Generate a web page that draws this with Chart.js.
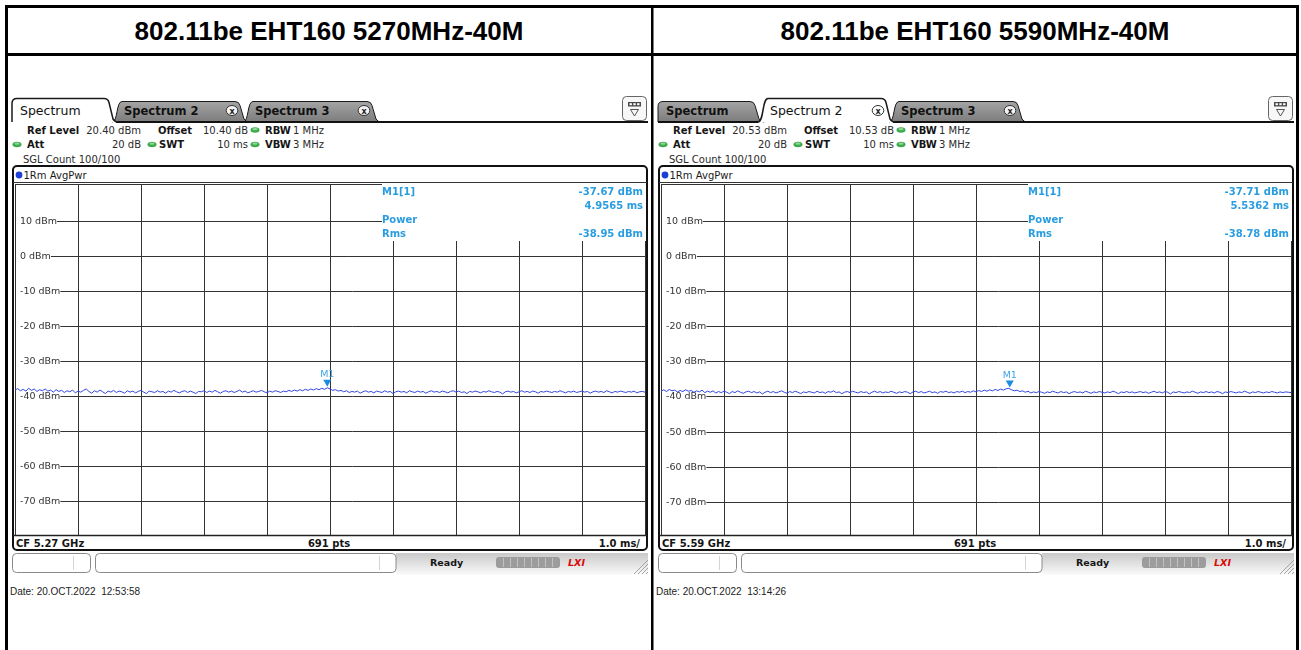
<!DOCTYPE html>
<html>
<head>
<meta charset="utf-8">
<title>802.11be EHT160 power vs time</title>
<script src="https://cdn.jsdelivr.net/npm/chart.js@4.4.0/dist/chart.umd.min.js"></script>
<style>
  html, body { margin: 0; padding: 0; background: #fff; }
  #stage { position: relative; width: 1301px; height: 650px; overflow: hidden; background: #fff; }
  #frame { position: absolute; left: 0; top: 0; }
  #stage canvas { position: absolute; }
</style>
</head>
<body>
<div id="stage">
  <svg id="frame" width="1301" height="650" xmlns="http://www.w3.org/2000/svg"></svg>
  <canvas id="plotA" width="632" height="355" style="left:14px;top:182px;width:632px;height:355px"></canvas>
  <canvas id="plotB" width="632" height="355" style="left:660px;top:182px;width:632px;height:355px"></canvas>
</div>
<script>
// ---------------- measurement data ----------------
const panelTitles  = ['802.11be EHT160 5270MHz-40M', '802.11be EHT160 5590MHz-40M'];
const refLevels    = [20.40, 20.53];          // dBm, top of graticule
const refOffsets   = [10.40, 10.53];          // dB
const centerFreqs  = ['5.27', '5.59'];        // GHz
const activeTabs   = [0, 1];
const tabNames     = ['Spectrum', 'Spectrum 2', 'Spectrum 3'];
const markerTimes  = [4.9565, 5.5362];        // ms
const markerLevels = [-37.67, -37.71];        // dBm
const rmsLevels    = [-38.95, -38.78];        // dBm
const timestamps   = ['20.OCT.2022  12:53:58', '20.OCT.2022  13:14:26'];
const sweepTime    = 10;                      // ms (zero span, 1.0 ms/div)
const sweepPoints  = 691;
const xDivisions   = [0, 1, 2, 3, 4, 5, 6, 7, 8, 9, 10];
const yTickValues  = [10, 0, -10, -20, -30, -40, -50, -60, -70];
const yTickLabels  = ['10 dBm', '0 dBm', '-10 dBm', '-20 dBm', '-30 dBm', '-40 dBm', '-50 dBm', '-60 dBm', '-70 dBm'];

// RMS-averaged trace, every 3rd sweep point (dBm)
const traceA = [
  -38.3, -37.9, -38.5, -38.1, -38.6, -37.8, -38.4, -38.0, -38.7, -38.2,
  -38.5, -38.0, -38.6, -38.3, -38.9, -38.2, -38.7, -38.4, -39.0, -38.5,
  -38.8, -38.3, -39.1, -38.6, -38.9, -38.4, -38.0, -38.7, -39.2, -38.5,
  -38.9, -38.3, -38.8, -39.3, -38.6, -38.9, -38.4, -39.0, -38.6, -38.8,
  -39.2, -38.5, -38.9, -38.6, -39.1, -38.7, -38.4, -38.9, -39.3, -38.6,
  -38.8, -39.0, -38.5, -38.9, -38.7, -39.2, -38.6, -38.9, -38.4, -38.8,
  -39.1, -38.7, -38.5, -39.0, -38.6, -38.9, -39.3, -38.7, -38.8, -38.5,
  -39.0, -38.6, -38.9, -38.4, -38.8, -39.2, -38.7, -38.5, -38.9, -38.6,
  -39.0, -38.7, -38.3, -38.9, -38.6, -39.1, -38.8, -38.5, -38.9, -38.7,
  -38.4, -38.8, -39.1, -38.6, -38.9, -38.5, -38.7, -39.0, -38.6, -38.8,
  -38.4, -38.7, -38.3, -38.6, -38.2, -38.5, -38.1, -38.4, -38.0, -38.3,
  -37.9, -38.2, -37.8, -38.1, -37.67, -38.0, -38.4, -38.2, -38.6, -38.4,
  -38.8, -38.5, -39.0, -38.7, -38.9, -38.6, -39.2, -38.8, -38.5, -38.9,
  -38.7, -39.1, -38.6, -38.8, -39.0, -38.5, -38.9, -38.7, -39.3, -38.8,
  -38.6, -38.9, -38.7, -39.1, -38.5, -38.8, -39.0, -38.6, -38.9, -38.7,
  -39.2, -38.8, -38.5, -38.9, -38.7, -39.0, -38.6, -38.8, -39.1, -38.7,
  -38.5, -38.9, -38.6, -39.0, -38.8, -39.3, -38.7, -38.9, -38.6, -38.8,
  -39.1, -38.7, -38.9, -38.5, -38.8, -39.0, -38.7, -38.9, -39.4, -38.8,
  -38.6, -38.9, -38.7, -39.1, -38.8, -38.5, -38.9, -38.7, -39.0, -38.6,
  -38.8, -39.2, -38.7, -38.9, -38.6, -38.8, -39.0, -38.7, -38.9, -38.5,
  -38.8, -39.1, -38.7, -38.9, -38.6, -39.0, -38.8, -38.6, -38.9, -38.7,
  -39.2, -38.8, -38.6, -38.9, -38.7, -39.0, -38.5, -38.8, -39.1, -38.7,
  -38.9, -38.6, -38.8, -39.0, -38.7, -38.9, -38.6, -39.1, -38.8, -38.7,
  -38.9
];
const traceB = [
  -38.5, -38.1, -38.6, -38.0, -38.4, -38.2, -38.7, -38.3, -38.6, -38.1,
  -38.5, -38.3, -38.8, -38.4, -38.7, -38.2, -38.9, -38.5, -38.8, -38.4,
  -39.0, -38.6, -38.9, -38.5, -38.8, -39.2, -38.6, -38.9, -38.4, -38.8,
  -39.1, -38.7, -38.5, -38.9, -38.6, -39.0, -38.7, -39.3, -38.8, -38.5,
  -38.9, -38.6, -39.0, -38.7, -38.4, -38.8, -39.1, -38.6, -38.9, -38.5,
  -38.8, -39.2, -38.7, -38.9, -38.6, -38.8, -39.0, -38.5, -38.9, -38.7,
  -39.1, -38.6, -38.8, -38.4, -38.9, -38.7, -39.2, -38.8, -38.6, -38.9,
  -38.5, -38.8, -39.0, -38.6, -38.9, -38.7, -39.3, -38.8, -38.5, -38.9,
  -38.6, -39.0, -38.7, -38.9, -38.5, -38.8, -39.1, -38.7, -38.9, -38.6,
  -38.8, -39.2, -38.7, -38.5, -38.9, -38.6, -39.0, -38.8, -38.5, -38.9,
  -38.7, -39.1, -38.6, -38.8, -38.5, -38.9, -38.7, -39.0, -38.6, -38.8,
  -38.5, -38.9, -38.6, -38.8, -38.4, -38.7, -38.3, -38.6, -38.2, -38.5,
  -38.1, -38.4, -38.0, -38.3, -37.9, -38.2, -37.8, -37.71, -38.1, -38.4,
  -38.2, -38.6, -38.4, -38.8, -38.5, -39.0, -38.7, -38.9, -38.6, -38.8,
  -39.1, -38.7, -38.9, -38.5, -38.8, -39.0, -38.6, -38.9, -38.7, -39.2,
  -38.8, -38.6, -38.9, -38.7, -39.0, -38.5, -38.8, -39.1, -38.7, -38.9,
  -38.6, -38.8, -39.0, -38.7, -38.9, -38.5, -38.8, -39.2, -38.7, -38.9,
  -38.6, -38.9, -38.7, -39.0, -38.8, -38.6, -38.9, -38.7, -39.1, -38.8,
  -38.5, -38.9, -38.7, -39.0, -38.6, -38.8, -39.3, -38.7, -38.9, -38.6,
  -38.8, -39.0, -38.7, -38.9, -38.5, -38.8, -39.1, -38.7, -38.9, -38.6,
  -38.9, -38.7, -39.0, -38.6, -38.8, -39.2, -38.7, -38.9, -38.6, -38.8,
  -39.0, -38.7, -38.9, -38.5, -38.8, -39.1, -38.7, -38.9, -38.6, -38.8,
  -39.0, -38.7, -38.9, -38.6, -38.8, -39.0, -38.7, -38.9, -38.7, -38.8,
  -38.9
];
const traces = [traceA, traceB];

// ---------------- instrument frame (SVG) ----------------
const UI = "'DejaVu Sans', Verdana, sans-serif";
const ARIAL = "'Liberation Sans', Arial, sans-serif";

function txt(x, y, str, o = {}) {
  return `<text x="${x}" y="${y}" font-family="${o.family || UI}" font-size="${o.size || 10}"` +
    ` font-weight="${o.weight || 'normal'}" font-style="${o.style || 'normal'}" text-anchor="${o.anchor || 'start'}"` +
    ` fill="${o.fill || '#151515'}" style="white-space:pre">${str}</text>`;
}

function tabPath(x0, x1, yt, yb, first) {
  const s = 10;
  let d = first
    ? `M${x0},${yb} L${x0},${yt + 5} Q${x0},${yt} ${x0 + 5},${yt}`
    : `M${x0},${yb} C${x0 + s * 0.6},${yb} ${x0 + s * 0.4},${yt} ${x0 + s},${yt}`;
  d += ` L${x1 - s - 2},${yt} Q${x1 - s + 2},${yt} ${x1 - s + 3},${yt + 4}` +
       ` L${x1 - 3},${yb - 3} Q${x1 - 1},${yb} ${x1 + 2},${yb}`;
  return d;
}

function greenDot(cx, cy) {
  return `<ellipse cx="${cx}" cy="${cy}" rx="4.5" ry="2.8" fill="#3eaa4c"/>` +
         `<ellipse cx="${cx}" cy="${cy - 0.8}" rx="2.6" ry="1.1" fill="#8fd69a"/>`;
}

function panelSVG(p) {
  const ox = p * 646;
  const s = [];
  s.push(`<g transform="translate(${ox},0)">`);
  // title row
  s.push(txt(329, 40, panelTitles[p], { family: ARIAL, size: 26, weight: 'bold', anchor: 'middle', fill: '#000' }));

  // tab strip
  const tabs = [[12, 116], [112, 247], [243, 379]];
  const act = activeTabs[p];
  const order = [2, 1, 0].filter(k => k !== act).concat([act]);
  order.forEach(k => {
    const [x0, x1] = tabs[k];
    const isAct = k === act;
    if (isAct) {
      if (x0 > 12) s.push(`<line x1="12" y1="122" x2="${x0}" y2="122" stroke="#111" stroke-width="2"/>`);
      s.push(`<line x1="${x1}" y1="122" x2="648" y2="122" stroke="#111" stroke-width="2"/>`);
    }
    s.push(`<path d="${tabPath(x0, x1, isAct ? 98.5 : 101.5, 122, k === 0)}" fill="${isAct ? '#fff' : 'url(#tabGrey)'}"` +
           ` stroke="#1a1a1a" stroke-width="${isAct ? 1.5 : 1}"/>`);
    s.push(txt(x0 + (k === 0 ? 8 : 12), 115, tabNames[k], { size: isAct ? 12.5 : 11.5, weight: isAct ? 'normal' : 'bold', fill: '#111' }));
    if (k > 0) {
      const cx = x1 - 15;
      s.push(`<ellipse cx="${cx}" cy="110.5" rx="5.8" ry="5" fill="${isAct ? '#fff' : '#f2f2f2'}" stroke="#333" stroke-width="1"/>`);
      s.push(txt(cx, 113.5, 'x', { size: 8, weight: 'bold', anchor: 'middle', fill: '#222' }));
    }
  });
  // display-config button
  s.push(`<rect x="622.5" y="96.5" width="24" height="24" rx="4" fill="#f7f7f7" stroke="#666"/>`);
  s.push(`<rect x="628" y="102" width="13" height="4.5" fill="#4a4a4a"/>`);
  s.push(`<rect x="629.5" y="103.2" width="2.4" height="2" fill="#fff"/><rect x="633.3" y="103.2" width="2.4" height="2" fill="#fff"/><rect x="637.1" y="103.2" width="2.4" height="2" fill="#fff"/>`);
  s.push(`<path d="M630.5,109.5 L638.5,109.5 L634.5,116 Z" fill="none" stroke="#555" stroke-width="1"/>`);

  // setting readouts
  const rl = refLevels[p].toFixed(2), off = refOffsets[p].toFixed(2);
  const r1 = 133.5, r2 = 148;
  s.push(txt(27, r1, 'Ref Level', { weight: 'bold' }));
  s.push(txt(141, r1, `${rl} dBm`, { anchor: 'end', fill: '#2a2a2a' }));
  s.push(txt(158, r1, 'Offset', { weight: 'bold' }));
  s.push(txt(248, r1, `${off} dB`, { anchor: 'end', fill: '#2a2a2a' }));
  s.push(greenDot(255, r1 - 3.5));
  s.push(txt(265, r1, 'RBW', { weight: 'bold' }));
  s.push(txt(293, r1, '1 MHz', { fill: '#2a2a2a' }));

  s.push(greenDot(17, r2 - 3.5));
  s.push(txt(27, r2, 'Att', { weight: 'bold' }));
  s.push(txt(141, r2, '20 dB', { anchor: 'end', fill: '#2a2a2a' }));
  s.push(greenDot(152, r2 - 3.5));
  s.push(txt(159, r2, 'SWT', { weight: 'bold' }));
  s.push(txt(248, r2, `${sweepTime} ms`, { anchor: 'end', fill: '#2a2a2a' }));
  s.push(greenDot(255, r2 - 3.5));
  s.push(txt(265, r2, 'VBW', { weight: 'bold' }));
  s.push(txt(293, r2, '3 MHz', { fill: '#2a2a2a' }));

  s.push(txt(23, 163, 'SGL Count 100/100', { fill: '#2a2a2a' }));

  // diagram box
  s.push(`<rect x="13" y="166" width="634" height="384" rx="4" fill="#fff" stroke="#111" stroke-width="2"/>`);
  s.push(`<line x1="13" y1="182.5" x2="647" y2="182.5" stroke="#333" stroke-width="1.2"/>`);
  s.push(`<circle cx="19" cy="175" r="3.4" fill="#1d3fd6"/>`);
  s.push(txt(23.5, 178.5, '1Rm AvgPwr', { fill: '#1a1a1a' }));
  s.push(`<line x1="13" y1="535.5" x2="647" y2="535.5" stroke="#222" stroke-width="1.4"/>`);
  s.push(txt(16, 546.5, `CF ${centerFreqs[p]} GHz`, { weight: 'bold' }));
  s.push(txt(329, 546.5, `${sweepPoints} pts`, { weight: 'bold', anchor: 'middle' }));
  s.push(txt(640, 546.5, `${(sweepTime / 10).toFixed(1)} ms/`, { weight: 'bold', anchor: 'end' }));

  // status bar
  s.push(`<rect x="396" y="553" width="252" height="22" fill="url(#statusGrey)"/>`);
  s.push(`<rect x="12.5" y="553.5" width="78" height="19" rx="4" fill="#fff" stroke="#8a8a8a"/>`);
  s.push(`<line x1="73.5" y1="556" x2="73.5" y2="570" stroke="#d4d4d4"/>`);
  s.push(`<rect x="95.5" y="553.5" width="300.5" height="19" rx="4" fill="#fff" stroke="#8a8a8a"/>`);
  s.push(`<line x1="379.5" y1="556" x2="379.5" y2="570" stroke="#d4d4d4"/>`);
  s.push(txt(430, 566, 'Ready', { weight: 'bold', size: 9.5 }));
  s.push(`<rect x="496" y="557" width="64" height="11" rx="3" fill="#9c9c9c"/>`);
  for (let k = 1; k < 9; k++) s.push(`<line x1="${496.5 + k * 7}" y1="558" x2="${496.5 + k * 7}" y2="567" stroke="#c2c2c2"/>`);
  s.push(txt(568, 566, 'LXI', { size: 9.5, weight: 'bold', style: 'italic', fill: '#d80a0a' }));
  for (let k = 0; k < 4; k++) s.push(`<line x1="${634 + k * 4}" y1="574" x2="648" y2="${560 + k * 4}" stroke="#9a9a9a" stroke-width="0.9"/>`);

  // capture time
  s.push(txt(10, 594.5, `Date: ${timestamps[p]}`, { family: ARIAL, size: 10, fill: '#222' }));
  s.push('</g>');
  return s.join('');
}

const defs = `<defs>
  <linearGradient id="tabGrey" x1="0" y1="0" x2="0" y2="1">
    <stop offset="0" stop-color="#a4a4a4"/><stop offset="1" stop-color="#7c7c7c"/>
  </linearGradient>
  <linearGradient id="statusGrey" x1="0" y1="0" x2="0" y2="1">
    <stop offset="0" stop-color="#c9c9c9"/><stop offset="1" stop-color="#fbfbfb"/>
  </linearGradient>
</defs>`;

// table grid around the two screens
const borders =
  `<rect x="5" y="5" width="3" height="645" fill="#000"/>` +
  `<rect x="1296" y="5" width="3" height="645" fill="#000"/>` +
  `<rect x="5" y="5" width="1294" height="3" fill="#000"/>` +
  `<rect x="5" y="53" width="1294" height="3" fill="#000"/>` +
  `<rect x="651" y="5" width="2.5" height="645" fill="#000"/>`;

document.getElementById('frame').innerHTML = defs + panelSVG(0) + panelSVG(1) + borders;

// ---------------- graticule + marker plugin ----------------
const graticule = {
  id: 'graticule',
  beforeDatasetsDraw(chart, args, o) {
    const { ctx, chartArea: a, scales: { x, y } } = chart;
    const infoLeft = Math.round(a.left + (a.right - a.left) * 0.582);
    const infoBottom = a.top + 57;
    const L = (x1, y1, x2, y2) => { ctx.beginPath(); ctx.moveTo(x1, y1); ctx.lineTo(x2, y2); ctx.stroke(); };
    ctx.save();
    ctx.lineWidth = 1;
    ctx.strokeStyle = '#333';
    xDivisions.forEach(v => {
      const px = Math.round(x.getPixelForValue(v)) + 0.5;
      L(px, px > infoLeft ? infoBottom : a.top, px, a.bottom);
    });
    L(a.left, a.top + 0.5, infoLeft, a.top + 0.5);

    ctx.font = '9.5px "DejaVu Sans"';
    ctx.textBaseline = 'middle';
    ctx.textAlign = 'left';
    ctx.fillStyle = '#333';
    yTickValues.forEach((v, i) => {
      const py = Math.round(y.getPixelForValue(v)) + 0.5;
      const lx = a.left + 5;
      ctx.fillText(yTickLabels[i], lx, py);
      const tw = ctx.measureText(yTickLabels[i]).width;
      L(lx + tw, py, py < infoBottom ? infoLeft : a.right, py);
    });

    // marker readout block
    ctx.fillStyle = '#2a9de0';
    ctx.font = 'bold 10px "DejaVu Sans"';
    ctx.fillText('M1[1]', infoLeft, a.top + 8.5);
    ctx.fillText('Power', infoLeft, a.top + 36.5);
    ctx.fillText('Rms', infoLeft, a.top + 50.5);
    ctx.textAlign = 'right';
    ctx.fillText(`${o.level.toFixed(2)} dBm`, a.right - 2, a.top + 8.5);
    ctx.fillText(`${o.time.toFixed(4)} ms`, a.right - 2, a.top + 22.5);
    ctx.fillText(`${o.rms.toFixed(2)} dBm`, a.right - 2, a.top + 50.5);
    ctx.restore();
  },
  afterDatasetsDraw(chart, args, o) {
    const { ctx, scales: { x, y } } = chart;
    const px = x.getPixelForValue(o.time);
    const py = y.getPixelForValue(o.level);
    ctx.save();
    ctx.fillStyle = '#1b8de0';
    ctx.beginPath();
    ctx.moveTo(px - 4, py - 8);
    ctx.lineTo(px + 4, py - 8);
    ctx.lineTo(px, py - 1);
    ctx.closePath();
    ctx.fill();
    ctx.font = '9.5px "DejaVu Sans"';
    ctx.textAlign = 'center';
    ctx.textBaseline = 'middle';
    ctx.fillStyle = '#3ea5e6';
    ctx.fillText('M1', px, py - 13);
    ctx.restore();
  }
};

function buildPlot(canvasId, p) {
  const tr = traces[p];
  const pts = tr.map((v, i) => ({ x: i * sweepTime / (tr.length - 1), y: v }));
  return new Chart(document.getElementById(canvasId), {
    type: 'line',
    data: {
      datasets: [{
        data: pts,
        borderColor: '#3346e4',
        borderWidth: 1,
        pointRadius: 0,
        tension: 0,
        fill: false
      }]
    },
    options: {
      responsive: false,
      animation: false,
      devicePixelRatio: 1,
      events: [],
      layout: { padding: { left: 1, right: 1, top: 2, bottom: 2 } },
      scales: {
        x: { type: 'linear', min: 0, max: sweepTime, display: false },
        y: { type: 'linear', min: refLevels[p] - 100, max: refLevels[p], display: false }
      },
      plugins: {
        legend: { display: false },
        tooltip: { enabled: false },
        graticule: { time: markerTimes[p], level: markerLevels[p], rms: rmsLevels[p] }
      }
    },
    plugins: [graticule]
  });
}

buildPlot('plotA', 0);
buildPlot('plotB', 1);
</script>
</body>
</html>
